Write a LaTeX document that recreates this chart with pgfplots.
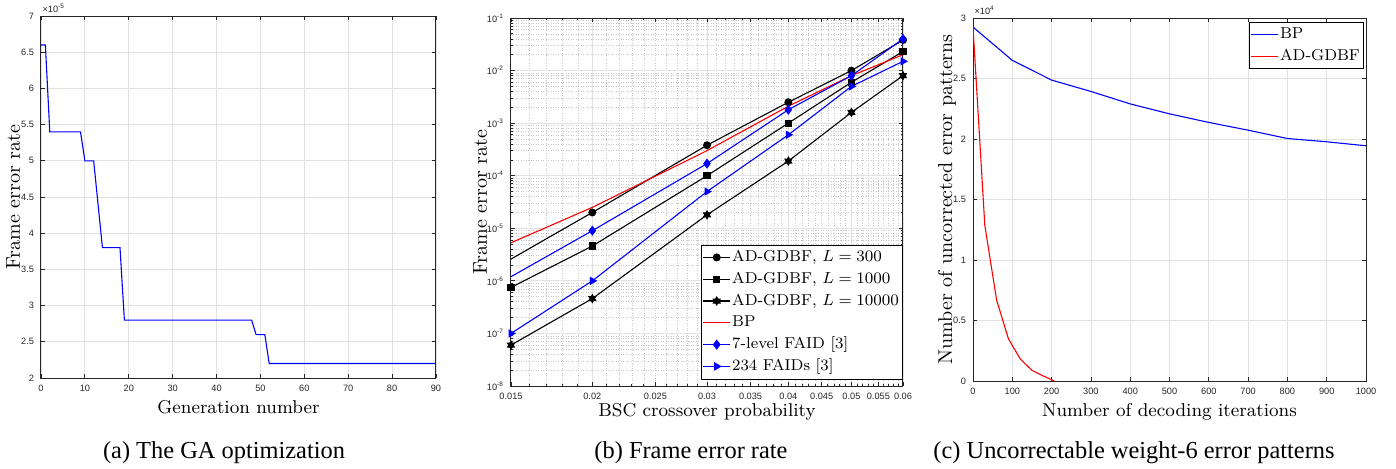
\documentclass[border=0pt]{standalone}
\usepackage{fontspec}
\newfontfamily\tickfont{Liberation Sans}
\newfontfamily\capfont{Liberation Serif}
\usepackage{pgfplots}
\pgfplotsset{compat=1.18}
\usetikzlibrary{plotmarks}

\definecolor{axgray}{RGB}{38,38,38}
\definecolor{gridgray}{RGB}{226,226,226}
\definecolor{mgridgray}{RGB}{200,200,200}

% filled six-pointed star (MATLAB hexagram)
\pgfdeclareplotmark{hexagram*}{%
  \pgfpathmoveto{\pgfqpoint{0pt}{\pgfplotmarksize}}%
  \pgfpathlineto{\pgfqpoint{-0.2887\pgfplotmarksize}{0.5\pgfplotmarksize}}%
  \pgfpathlineto{\pgfqpoint{-0.866\pgfplotmarksize}{0.5\pgfplotmarksize}}%
  \pgfpathlineto{\pgfqpoint{-0.577\pgfplotmarksize}{0pt}}%
  \pgfpathlineto{\pgfqpoint{-0.866\pgfplotmarksize}{-0.5\pgfplotmarksize}}%
  \pgfpathlineto{\pgfqpoint{-0.2887\pgfplotmarksize}{-0.5\pgfplotmarksize}}%
  \pgfpathlineto{\pgfqpoint{0pt}{-\pgfplotmarksize}}%
  \pgfpathlineto{\pgfqpoint{0.2887\pgfplotmarksize}{-0.5\pgfplotmarksize}}%
  \pgfpathlineto{\pgfqpoint{0.866\pgfplotmarksize}{-0.5\pgfplotmarksize}}%
  \pgfpathlineto{\pgfqpoint{0.577\pgfplotmarksize}{0pt}}%
  \pgfpathlineto{\pgfqpoint{0.866\pgfplotmarksize}{0.5\pgfplotmarksize}}%
  \pgfpathlineto{\pgfqpoint{0.2887\pgfplotmarksize}{0.5\pgfplotmarksize}}%
  \pgfpathclose
  \pgfusepathqfillstroke}

\tikzset{xmul/.style={anchor=base west, font=\tickfont\fontsize{4.6}{5}\selectfont, text=axgray, inner sep=0pt}}

\pgfplotsset{
  matlab/.style={
    scale only axis, anchor=south west,
    axis line style={axgray, line width=0.5pt},
    tick style={axgray, line width=0.4pt},
    tick align=inside, major tick length=2.2pt, minor tick length=1.2pt,
    tick label style={font=\tickfont\fontsize{4.6}{5}\selectfont, text=axgray},
    /pgf/number format/assume math mode=true,
    /pgf/number format/set thousands separator={},
    major grid style={gridgray, line width=0.4pt},
    minor grid style={mgridgray, line width=0.3pt, dash pattern=on 0.35pt off 0.9pt},
    xlabel style={font=\fontsize{9.3}{10}\selectfont, at={(axis description cs:0.5,0)}, anchor=base},
    ylabel style={font=\fontsize{10}{11}\selectfont, anchor=base},
    legend style={font=\fontsize{7.9}{9}\selectfont, inner xsep=0.8pt, inner ysep=0.8pt,
      nodes={inner xsep=0.7pt, inner ysep=1.5pt, text height=6pt, text depth=1.9pt}},
    legend cell align=left,
    legend image code/.code={\draw[mark repeat=2,mark phase=2,line width=0.6pt,##1]
      plot coordinates {(0pt,0pt) (6.75pt,0pt) (13.5pt,0pt)};},
  },
}

\begin{document}
\begin{tikzpicture}
\path[use as bounding box] (0,0) rectangle (698pt,234pt);

% (a) GA optimization
\begin{axis}[matlab, name=pa,
  at={(20.5pt,45pt)}, width=197.5pt, height=181pt,
  xmin=0, xmax=90, ymin=2, ymax=7,
  xtick={0,10,20,30,40,50,60,70,80,90},
  ytick={2,2.5,3,3.5,4,4.5,5,5.5,6,6.5,7},
  grid=major,
  xlabel={Generation number}, xlabel style={yshift=-17.75pt},
  ylabel={Frame error rate}, ylabel style={at={(axis description cs:-0.0532,0.5)}},
]
\addplot[blue, line width=0.55pt] coordinates {
  (0,6.6) (1,6.6) (2,5.4) (9,5.4) (10,5.0) (12,5.0) (14,3.8) (18,3.8)
  (19,2.8) (48,2.8) (49,2.6) (51,2.6) (52,2.2) (90,2.2)
};
\end{axis}
\node[xmul] at ([xshift=0.6pt,yshift=1.6pt]pa.north west) {×10\textsuperscript{-5}};

% (b) frame error rate
\begin{axis}[matlab,
  at={(255.5pt,41pt)}, width=196pt, height=184pt,
  xmode=log, ymode=log,
  xmin=0.015, xmax=0.06, ymin=1e-8, ymax=1e-1,
  xtick={0.02,0.03,0.04,0.05,0.06},
  xticklabels={0.02,0.03,0.04,0.05,0.06},
  extra x ticks={0.015,0.025,0.035,0.045,0.055},
  extra x tick labels={0.015,0.025,0.035,0.045,0.055},
  extra x tick style={grid=none},
  minor xtick={0.016,0.017,0.018,0.019,0.021,0.022,0.023,0.024,0.025,0.026,0.027,0.028,0.029,
    0.031,0.032,0.033,0.034,0.035,0.036,0.037,0.038,0.039,
    0.041,0.042,0.043,0.044,0.045,0.046,0.047,0.048,0.049,
    0.051,0.052,0.053,0.054,0.055,0.056,0.057,0.058,0.059},
  ytick={1e-8,1e-7,1e-6,1e-5,1e-4,1e-3,1e-2,1e-1},
  yticklabels={10\textsuperscript{-8},10\textsuperscript{-7},10\textsuperscript{-6},10\textsuperscript{-5},
    10\textsuperscript{-4},10\textsuperscript{-3},10\textsuperscript{-2},10\textsuperscript{-1}},
  minor ytick={2e-8,3e-8,4e-8,5e-8,6e-8,7e-8,8e-8,9e-8,
    2e-7,3e-7,4e-7,5e-7,6e-7,7e-7,8e-7,9e-7,
    2e-6,3e-6,4e-6,5e-6,6e-6,7e-6,8e-6,9e-6,
    2e-5,3e-5,4e-5,5e-5,6e-5,7e-5,8e-5,9e-5,
    2e-4,3e-4,4e-4,5e-4,6e-4,7e-4,8e-4,9e-4,
    2e-3,3e-3,4e-3,5e-3,6e-3,7e-3,8e-3,9e-3,
    2e-2,3e-2,4e-2,5e-2,6e-2,7e-2,8e-2,9e-2},
  grid=both,
  xlabel={BSC crossover probability}, xlabel style={yshift=-15pt},
  ylabel={Frame error rate}, ylabel style={at={(axis description cs:-0.0612,0.5)}},
  legend style={at={(1,0)}, anchor=south east, xshift=-0.3pt, yshift=3.35pt},
]
\addplot[black, line width=0.55pt, mark=*, mark size=1.7pt, mark phase=2] coordinates {
  (0.015,2.6e-6) (0.02,2.0e-5) (0.03,3.8e-4) (0.04,2.5e-3) (0.05,1.0e-2) (0.06,3.8e-2)
};
\addlegendentry{AD-GDBF, $L=300$}
\addplot[black, line width=0.55pt, mark=square*, mark size=1.5pt] coordinates {
  (0.015,7.5e-7) (0.02,4.6e-6) (0.03,1.0e-4) (0.04,1.0e-3) (0.05,6.0e-3) (0.06,2.3e-2)
};
\addlegendentry{AD-GDBF, $L=1000$}
\addplot[black, line width=0.55pt, mark=hexagram*, mark size=1.9pt] coordinates {
  (0.015,6.0e-8) (0.02,4.6e-7) (0.03,1.8e-5) (0.04,1.9e-4) (0.05,1.6e-3) (0.06,8.0e-3)
};
\addlegendentry{AD-GDBF, $L=10000$}
\addplot[red, line width=0.55pt] coordinates {
  (0.015,5.3e-6) (0.02,2.5e-5) (0.03,3.0e-4) (0.04,2.1e-3) (0.05,8.0e-3) (0.06,2.0e-2)
};
\addlegendentry{BP}
\addplot[blue, line width=0.55pt, mark=diamond*, mark size=2.1pt, mark phase=2] coordinates {
  (0.015,1.2e-6) (0.02,9.0e-6) (0.03,1.7e-4) (0.04,1.8e-3) (0.05,8.0e-3) (0.06,4.0e-2)
};
\addlegendentry{7-level FAID [3]}
\addplot[blue, line width=0.55pt, mark=triangle*, mark size=1.9pt, mark options={rotate=-90}] coordinates {
  (0.015,1.0e-7) (0.02,1.0e-6) (0.03,5.0e-5) (0.04,6.0e-4) (0.05,5.0e-3) (0.06,1.5e-2)
};
\addlegendentry{234 FAIDs [3]}
\end{axis}

% (c) uncorrectable patterns
\begin{axis}[matlab, name=pc,
  at={(486.5pt,43.5pt)}, width=196.5pt, height=181.5pt,
  xmin=0, xmax=1000, ymin=0, ymax=3,
  xtick={0,100,200,300,400,500,600,700,800,900,1000},
  ytick={0,0.5,1,1.5,2,2.5,3},
  grid=major,
  xlabel={Number of decoding iterations}, xlabel style={yshift=-17.5pt},
  ylabel={Number of uncorrected error patterns}, ylabel style={at={(axis description cs:-0.0534,0.5)}},
  legend style={at={(1,1)}, anchor=north east, xshift=-1.35pt, yshift=-1.8pt},
]
\addplot[blue, line width=0.55pt] coordinates {
  (0,2.925) (100,2.650) (200,2.487) (300,2.393) (400,2.290) (500,2.208)
  (600,2.137) (700,2.073) (800,2.004) (900,1.977) (1000,1.944)
};
\addlegendentry{BP}
\addplot[red, line width=0.55pt] coordinates {
  (0,2.925) (30,1.287) (60,0.670) (90,0.350) (120,0.183) (150,0.088) (180,0.040) (207,0)
};
\addlegendentry{AD-GDBF}
\end{axis}
\node[xmul] at ([xshift=0.6pt,yshift=1.6pt]pc.north west) {×10\textsuperscript{4}};

\node[anchor=base, font=\capfont\fontsize{12.2}{14}\selectfont] at (112pt,5pt) {(a) The GA optimization};
\node[anchor=base, font=\capfont\fontsize{12.2}{14}\selectfont] at (345.5pt,5pt) {(b) Frame error rate};
\node[anchor=base, font=\capfont\fontsize{12.2}{14}\selectfont] at (567pt,5pt) {(c) Uncorrectable weight-6 error patterns};
\end{tikzpicture}
\end{document}
